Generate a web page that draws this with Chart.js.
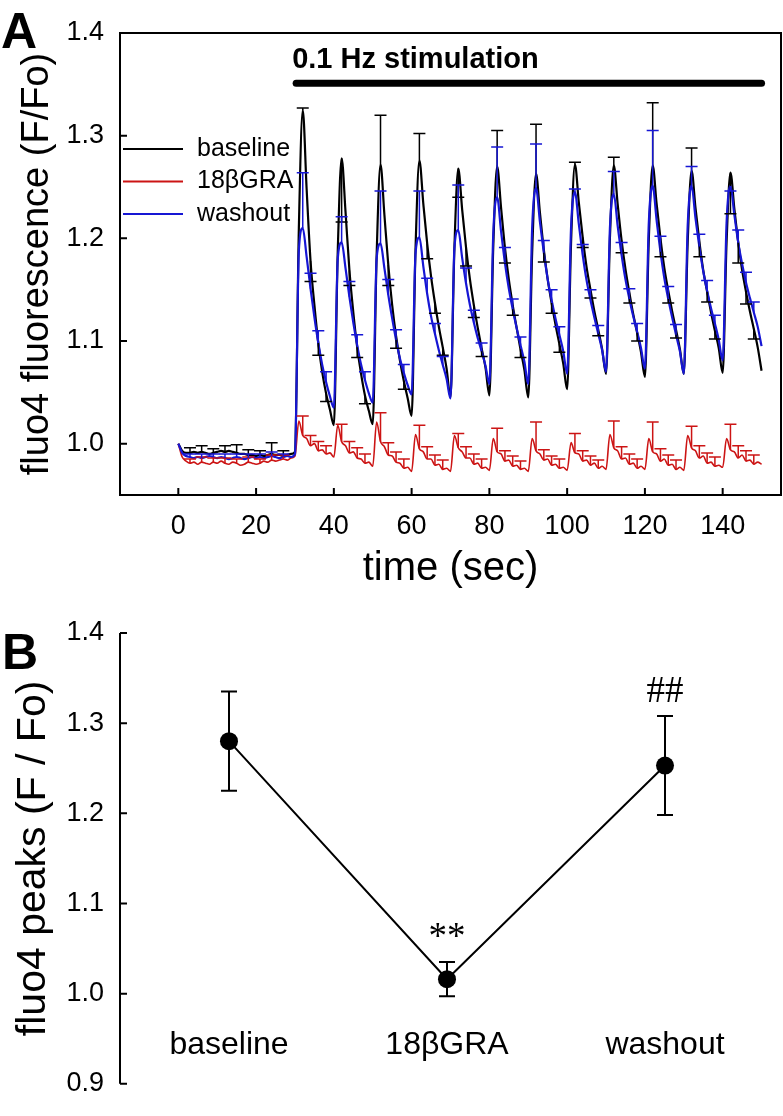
<!DOCTYPE html>
<html>
<head>
<meta charset="utf-8">
<script src="https://cdn.jsdelivr.net/npm/chart.js@4.4.1/dist/chart.umd.min.js"></script>
<style>
  html, body { margin:0; padding:0; background:#fff; }
  #wrap { position:relative; width:783px; height:1116px; background:#fff; overflow:hidden; }
  canvas { position:absolute; left:0; }
  #cA { top:0; }
  #cB { top:600px; }
</style>
</head>
<body>
<div id="wrap">
  <canvas id="cA" width="783" height="600"></canvas>
  <canvas id="cB" width="783" height="516"></canvas>
</div>
<script>
/* ---------- panel A : fluo4 traces (1 s samples) ---------- */
const seriesNames = ['baseline', '18\u03B2GRA', 'washout'];
const timeSec = Array.from({ length: 151 }, (_, i) => i);   // 0..150 s grid

const baselineTrace = [
  1.000, 0.993, 0.991, 0.991, 0.992, 0.991, 0.992, 0.991, 0.990, 0.991,
  0.992, 0.993, 0.992, 0.993, 0.992, 0.991, 0.990, 0.990, 0.989, 0.989,
  0.988, 0.989, 0.988, 0.989, 0.990, 0.989, 0.989, 0.988, 0.989, 0.990, 0.992,
  1.210, 1.325, 1.248, 1.178, 1.135, 1.098, 1.070, 1.049, 1.033, 1.018,
  1.187, 1.278, 1.226, 1.169, 1.128, 1.094, 1.068, 1.047, 1.032, 1.019,
  1.183, 1.272, 1.223, 1.174, 1.135, 1.105, 1.081, 1.061, 1.044, 1.027,
  1.189, 1.276, 1.234, 1.195, 1.163, 1.137, 1.114, 1.094, 1.073, 1.045,
  1.190, 1.268, 1.228, 1.191, 1.160, 1.135, 1.113, 1.093, 1.074, 1.047,
  1.192, 1.270, 1.230, 1.191, 1.160, 1.135, 1.113, 1.092, 1.072, 1.045,
  1.186, 1.263, 1.225, 1.189, 1.160, 1.137, 1.116, 1.097, 1.078, 1.053,
  1.195, 1.272, 1.235, 1.201, 1.172, 1.150, 1.129, 1.111, 1.092, 1.068,
  1.200, 1.271, 1.233, 1.198, 1.170, 1.147, 1.126, 1.108, 1.089, 1.065,
  1.199, 1.271, 1.234, 1.200, 1.171, 1.149, 1.129, 1.111, 1.092, 1.068,
  1.196, 1.266, 1.230, 1.197, 1.169, 1.148, 1.128, 1.110, 1.093, 1.069,
  1.196, 1.264, 1.229, 1.196, 1.169, 1.148, 1.129, 1.112, 1.094, 1.071
];
const graTrace = [
  1.000, 0.987, 0.983, 0.981, 0.982, 0.980, 0.982, 0.981, 0.980, 0.982,
  0.981, 0.983, 0.981, 0.980, 0.982, 0.981, 0.979, 0.980, 0.982, 0.981,
  0.980, 0.981, 0.983, 0.982, 0.984, 0.983, 0.984, 0.985, 0.984, 0.986, 0.988,
  1.022, 1.008, 1.005, 0.998, 1.000, 0.993, 0.994, 0.990, 0.991, 0.987,
  1.018, 1.002, 0.998, 0.991, 0.992, 0.986, 0.985, 0.981, 0.982, 0.978,
  1.021, 1.002, 0.997, 0.989, 0.988, 0.982, 0.981, 0.976, 0.977, 0.973,
  1.009, 0.995, 0.992, 0.985, 0.985, 0.979, 0.980, 0.975, 0.976, 0.973,
  1.008, 0.996, 0.992, 0.986, 0.986, 0.980, 0.981, 0.976, 0.977, 0.974,
  1.005, 0.992, 0.990, 0.983, 0.984, 0.978, 0.979, 0.975, 0.976, 0.973,
  1.005, 0.993, 0.990, 0.984, 0.985, 0.979, 0.980, 0.976, 0.977, 0.974,
  1.001, 0.991, 0.990, 0.983, 0.984, 0.979, 0.981, 0.976, 0.978, 0.975,
  1.009, 0.996, 0.993, 0.985, 0.986, 0.980, 0.981, 0.976, 0.978, 0.975,
  1.005, 0.992, 0.990, 0.983, 0.985, 0.979, 0.980, 0.975, 0.977, 0.974,
  1.008, 0.996, 0.993, 0.986, 0.988, 0.981, 0.982, 0.978, 0.979, 0.977,
  1.005, 0.994, 0.992, 0.986, 0.989, 0.983, 0.984, 0.980, 0.982, 0.980
];
const washoutTrace = [
  1.000, 0.991, 0.988, 0.987, 0.986, 0.987, 0.986, 0.987, 0.988, 0.987,
  0.986, 0.987, 0.986, 0.985, 0.986, 0.987, 0.986, 0.985, 0.986, 0.987,
  0.986, 0.987, 0.986, 0.987, 0.988, 0.987, 0.986, 0.987, 0.988, 0.987, 0.990,
  1.188, 1.210, 1.182, 1.151, 1.123, 1.098, 1.077, 1.060, 1.046, 1.035,
  1.180, 1.196, 1.171, 1.143, 1.118, 1.096, 1.077, 1.062, 1.049, 1.040,
  1.180, 1.195, 1.171, 1.145, 1.122, 1.101, 1.083, 1.069, 1.057, 1.048,
  1.185, 1.201, 1.173, 1.146, 1.124, 1.107, 1.091, 1.077, 1.063, 1.044,
  1.190, 1.208, 1.181, 1.156, 1.135, 1.118, 1.103, 1.090, 1.076, 1.058,
  1.205, 1.240, 1.207, 1.176, 1.151, 1.131, 1.113, 1.096, 1.080, 1.058,
  1.210, 1.249, 1.216, 1.186, 1.160, 1.140, 1.122, 1.106, 1.090, 1.068,
  1.210, 1.245, 1.214, 1.184, 1.159, 1.140, 1.123, 1.107, 1.091, 1.070,
  1.210, 1.243, 1.212, 1.184, 1.160, 1.141, 1.124, 1.109, 1.093, 1.073,
  1.215, 1.251, 1.218, 1.187, 1.161, 1.141, 1.123, 1.106, 1.090, 1.068,
  1.212, 1.251, 1.220, 1.192, 1.168, 1.149, 1.132, 1.117, 1.101, 1.081,
  1.215, 1.251, 1.223, 1.196, 1.175, 1.157, 1.142, 1.128, 1.114, 1.095
];

// one-sided SEM bars (signed: + drawn up, - drawn down)
const errTimes = [3, 6, 9, 12, 15, 18, 21, 24, 27,
  32, 34, 36, 38, 42, 44, 46, 48, 52, 54, 56, 58, 62, 64, 66, 68,
  72, 74, 76, 78, 82, 84, 86, 88, 92, 94, 96, 98, 102, 104, 106, 108,
  112, 114, 116, 118, 122, 124, 126, 128, 132, 134, 136, 138, 142, 144, 146, 148];
const baselineErr = [0.005, 0.006, 0.004, 0.006, 0.008, 0.005, 0.004, 0.011, 0.005,
  0.002, -0.020, -0.012, -0.008,   -0.062, -0.015, -0.010, -0.008,
  0.048, -0.020, -0.012, -0.008,    0.026, -0.015, -0.010, -0.008,
  -0.028, -0.018, -0.012, -0.008,   0.035, -0.015, -0.010, -0.008,
  0.048, -0.012, -0.010, -0.008,    0.002, -0.010, -0.008, -0.006,
  0.008, -0.012, -0.010, -0.008,    0.061, -0.018, -0.012, -0.008,
  0.022, -0.015, -0.010, -0.008,   -0.040, -0.020, -0.012, -0.010];
const graErr = [0.004, 0.005, 0.004, 0.005, 0.004, 0.005, 0.004, 0.005, 0.004,
  0.019, 0.010, 0.009, 0.008,  0.017, 0.011, 0.010, 0.009,
  0.028, 0.012, 0.010, 0.009,  0.023, 0.012, 0.010, 0.009,
  0.014, 0.011, 0.010, 0.009,  0.023, 0.010, 0.010, 0.008,
  0.028, 0.010, 0.009, 0.009,  0.019, 0.010, 0.009, 0.008,
  0.026, 0.012, 0.010, 0.009,  0.029, 0.012, 0.010, 0.009,
  0.021, 0.012, 0.010, 0.009,  0.025, 0.012, 0.010, 0.009];
const washoutErr = [0.003, 0.004, 0.003, 0.004, 0.003, 0.004, 0.003, 0.004, 0.003,
  0.054, 0.015, 0.012, 0.010,  0.025, 0.015, 0.010, 0.008,
  0.051, 0.015, 0.010, 0.008,  0.045, 0.015, 0.010, 0.008,
  0.044, 0.015, 0.012, 0.008,  0.049, 0.015, 0.010, 0.008,
  0.043, 0.012, 0.010, 0.008,  0.003, 0.010, 0.010, 0.008,
  0.022, 0.012, 0.010, 0.008,  0.054, 0.015, 0.012, 0.010,
  0.019, 0.012, 0.010, 0.008, -0.005, 0.012, 0.010, 0.010];

const stimStart = 30.3, stimEnd = 150, stimLevel = 1.351;
const stimLabel = '0.1 Hz stimulation';
const xTicksA = [0, 20, 40, 60, 80, 100, 120, 140];
const yTicksA = [1.0, 1.1, 1.2, 1.3, 1.4];

/* ---------- panel B : peak amplitudes ---------- */
const groups = ['baseline', '18\u03B2GRA', 'washout'];
const groupPos = [1, 2, 3];
const peakMean = [1.280, 1.016, 1.253];
const peakSem = [0.055, 0.019, 0.055];
const peakMarks = ['', '**', '##'];
const yTicksB = [0.9, 1.0, 1.1, 1.2, 1.3, 1.4];

/* ---------- style ---------- */
const SANS = '"Liberation Sans", Arial, Helvetica, sans-serif';
const SERIF = '"Liberation Serif", "Times New Roman", serif';
const C_BASE = '#000000', C_GRA = '#cc1414', C_WASH = '#1616d4';
Chart.defaults.font.family = SANS;
Chart.defaults.color = '#000';

const pts = (xs, ys) => xs.map((x, i) => ({ x, y: ys[i] }));

function errBar(ctx, px, y0, y1, half){
  ctx.beginPath();
  ctx.moveTo(px, y0); ctx.lineTo(px, y1);
  ctx.moveTo(px - half, y1); ctx.lineTo(px + half, y1);
  ctx.stroke();
}

function setTicks(list){
  return s => { s.ticks = list.map(v => ({ value: v })); };
}

// ---------- plugin panel A : frame, inward ticks, sem bars, legend, labels
const panelA = {
  id: 'panelA',
  afterDatasetsDraw(chart){
    const { ctx, scales: { x, y } } = chart;
    ctx.save();
    ctx.lineWidth = 1.5;
    [[baselineTrace, baselineErr, C_BASE], [graTrace, graErr, C_GRA], [washoutTrace, washoutErr, C_WASH]]
      .forEach(([tr, er, col]) => {
        ctx.strokeStyle = col;
        errTimes.forEach((t, i) => {
          const v = tr[timeSec.indexOf(t)];
          errBar(ctx, x.getPixelForValue(t), y.getPixelForValue(v), y.getPixelForValue(v + er[i]), 6);
        });
      });
    ctx.restore();
  },
  afterDraw(chart){
    const { ctx, chartArea: a, scales: { x, y } } = chart;
    ctx.save();
    ctx.strokeStyle = '#000';
    ctx.lineWidth = 2;
    ctx.strokeRect(a.left, a.top, a.right - a.left, a.bottom - a.top);
    ctx.beginPath();
    yTicksA.forEach(v => { const p = y.getPixelForValue(v); ctx.moveTo(a.left, p); ctx.lineTo(a.left + 7, p); });
    xTicksA.forEach(v => { const p = x.getPixelForValue(v); ctx.moveTo(p, a.bottom); ctx.lineTo(p, a.bottom - 7); });
    ctx.stroke();

    // legend
    const cols = [C_BASE, C_GRA, C_WASH];
    ctx.font = '25px ' + SANS;
    ctx.textBaseline = 'middle';
    ctx.textAlign = 'left';
    seriesNames.forEach((n, i) => {
      const ly = a.top + 116 + i * 32.5;
      ctx.strokeStyle = cols[i];
      ctx.lineWidth = 2;
      ctx.beginPath(); ctx.moveTo(a.left + 3, ly); ctx.lineTo(a.left + 63, ly); ctx.stroke();
      ctx.fillStyle = '#000';
      ctx.fillText(n, a.left + 77, ly);
    });

    // stimulation label
    ctx.font = 'bold 29px ' + SANS;
    ctx.textBaseline = 'alphabetic';
    ctx.fillText(stimLabel, x.getPixelForValue(stimStart) - 4, y.getPixelForValue(stimLevel) - 15);

    // panel letter
    ctx.font = 'bold 50px ' + SANS;
    ctx.fillText('A', 1, 48);
    ctx.restore();
  }
};

new Chart(document.getElementById('cA'), {
  type: 'line',
  data: {
    datasets: [
      { label: seriesNames[2], data: pts(timeSec, washoutTrace), borderColor: C_WASH, borderWidth: 2.2, order: 0 },
      { label: seriesNames[1], data: pts(timeSec, graTrace), borderColor: C_GRA, borderWidth: 1.6, order: 1 },
      { label: seriesNames[0], data: pts(timeSec, baselineTrace), borderColor: C_BASE, borderWidth: 2.2, order: 2 },
      { label: 'stim', data: [{ x: stimStart, y: stimLevel }, { x: stimEnd, y: stimLevel }],
        borderColor: '#000', borderWidth: 7, borderCapStyle: 'round', order: 3 }
    ]
  },
  options: {
    responsive: false,
    animation: false,
    devicePixelRatio: 1,
    events: [],
    layout: { padding: { top: 33, right: 2, left: 0, bottom: 0 } },
    elements: {
      point: { radius: 0 },
      line: { cubicInterpolationMode: 'monotone', fill: false }
    },
    plugins: { legend: { display: false }, tooltip: { enabled: false } },
    scales: {
      x: {
        type: 'linear', min: -15, max: 155, position: 'bottom',
        afterBuildTicks: setTicks(xTicksA),
        afterFit: s => { s.height = 105; },
        grid: { display: false, drawTicks: false },
        border: { display: false },
        ticks: { font: { size: 27 }, padding: 15, maxRotation: 0, autoSkip: false, color: '#000' },
        title: { display: true, text: 'time (sec)', font: { size: 40 }, padding: { top: 0, bottom: 7 }, color: '#000' }
      },
      y: {
        min: 0.95, max: 1.4,
        afterBuildTicks: setTicks(yTicksA),
        afterFit: s => { s.width = 120; },
        grid: { display: false, drawTicks: false },
        border: { display: false },
        ticks: { font: { size: 27 }, padding: 16, color: '#000', callback: v => Number(v).toFixed(1) },
        title: { display: true, text: 'fluo4 fluorescence (F/Fo)', font: { size: 38 }, padding: { top: 15, bottom: 0 }, color: '#000' }
      }
    }
  },
  plugins: [panelA]
});

// ---------- plugin panel B : axis, sem bars, marks, category labels
const panelB = {
  id: 'panelB',
  beforeDatasetsDraw(chart){
    const { ctx, scales: { x, y } } = chart;
    ctx.save();
    ctx.strokeStyle = '#000';
    ctx.lineWidth = 2;
    groupPos.forEach((g, i) => {
      const px = x.getPixelForValue(g);
      errBar(ctx, px, y.getPixelForValue(peakMean[i]), y.getPixelForValue(peakMean[i] + peakSem[i]), 8);
      errBar(ctx, px, y.getPixelForValue(peakMean[i]), y.getPixelForValue(peakMean[i] - peakSem[i]), 8);
    });
    ctx.restore();
  },
  afterDraw(chart){
    const { ctx, chartArea: a, scales: { x, y } } = chart;
    ctx.save();
    ctx.strokeStyle = '#000';
    ctx.lineWidth = 2;
    ctx.beginPath();
    ctx.moveTo(a.left, a.top); ctx.lineTo(a.left, a.bottom);
    yTicksB.forEach(v => { const p = y.getPixelForValue(v); ctx.moveTo(a.left, p); ctx.lineTo(a.left + 7, p); });
    ctx.stroke();

    ctx.fillStyle = '#000';
    ctx.textAlign = 'center';
    ctx.font = '37px ' + SERIF;
    ctx.textBaseline = 'alphabetic';
    groupPos.forEach((g, i) => {
      if (!peakMarks[i]) return;
      ctx.fillText(peakMarks[i], x.getPixelForValue(g), y.getPixelForValue(peakMean[i] + peakSem[i]) - 14);
    });

    ctx.font = '32px ' + SANS;
    ctx.textBaseline = 'middle';
    groupPos.forEach((g, i) => ctx.fillText(groups[i], x.getPixelForValue(g), y.getPixelForValue(0.943)));

    ctx.textAlign = 'left';
    ctx.textBaseline = 'alphabetic';
    ctx.font = 'bold 50px ' + SANS;
    ctx.fillText('B', 2, 69);
    ctx.restore();
  }
};

new Chart(document.getElementById('cB'), {
  type: 'line',
  data: {
    datasets: [{
      label: 'peaks', data: pts(groupPos, peakMean),
      borderColor: '#000', borderWidth: 2, tension: 0,
      pointRadius: 9, pointBackgroundColor: '#000', pointBorderWidth: 0
    }]
  },
  options: {
    responsive: false,
    animation: false,
    devicePixelRatio: 1,
    events: [],
    layout: { padding: { top: 33, right: 2, left: 0, bottom: 20 } },
    plugins: { legend: { display: false }, tooltip: { enabled: false } },
    scales: {
      x: { type: 'linear', min: 0.5, max: 3.5, display: false },
      y: {
        min: 0.9, max: 1.4,
        afterBuildTicks: setTicks(yTicksB),
        afterFit: s => { s.width = 120; },
        grid: { display: false, drawTicks: false },
        border: { display: false },
        ticks: { font: { size: 27 }, padding: 16, color: '#000', callback: v => Number(v).toFixed(1) },
        title: { display: true, text: 'fluo4 peaks (F / Fo)', font: { size: 41 }, padding: { top: 9, bottom: 0 }, color: '#000' }
      }
    }
  },
  plugins: [panelB]
});
</script>
</body>
</html>
